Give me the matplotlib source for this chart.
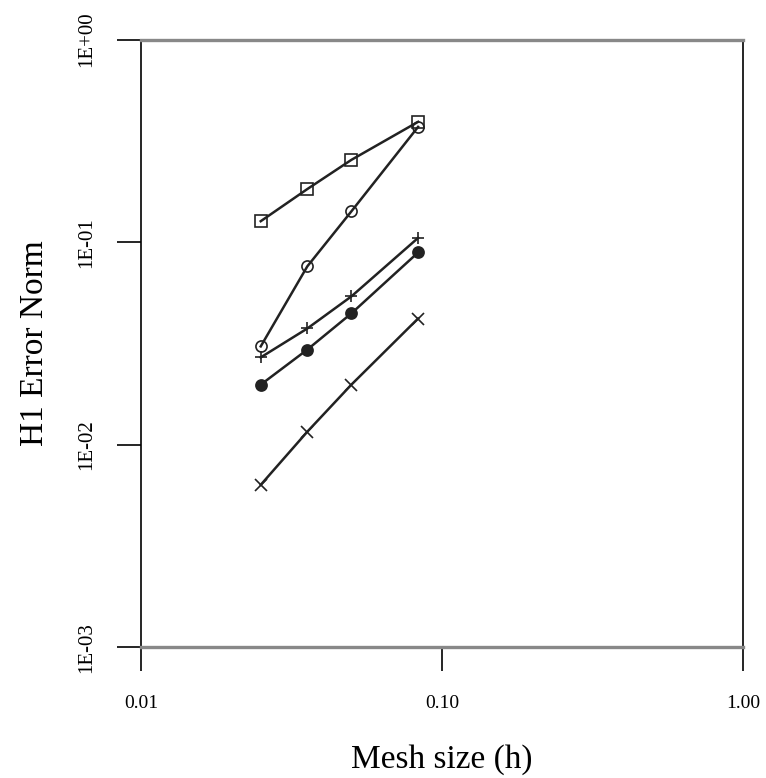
import matplotlib
matplotlib.use("Agg")
import matplotlib.pyplot as plt
from matplotlib.ticker import FixedLocator, NullLocator

plt.rcParams["font.family"] = ["Liberation Serif", "DejaVu Serif"]

h = [0.025, 0.0357, 0.05, 0.0833]
err_square = [0.127, 0.183, 0.255, 0.393]
err_circle = [0.0306, 0.076, 0.142, 0.371]
err_plus = [0.027, 0.0375, 0.054, 0.105]
err_dot = [0.0198, 0.0295, 0.0445, 0.089]
err_cross = [0.00634, 0.0116, 0.0198, 0.042]

x_ticks = [0.01, 0.1, 1.0]
x_labels = ["0.01", "0.10", "1.00"]
y_ticks = [1e-3, 1e-2, 1e-1, 1e0]
y_labels = ["1E-03", "1E-02", "1E-01", "1E+00"]

fig = plt.figure(figsize=(7.66, 7.78), dpi=100)
ax = fig.add_axes([0.184, 0.168, 0.786, 0.781])

style = dict(color="#222222", lw=1.8, ms=8, mew=1.2)
ax.plot(h, err_square, marker="s", mfc="none", **style)
ax.plot(h, err_circle, marker="o", mfc="none", **style)
ax.plot(h, err_plus, marker="+", **style)
ax.plot(h, err_dot, marker="o", mfc="#222222", **style)
ax.plot(h, err_cross, marker="x", **style)

ax.set_xscale("log")
ax.set_yscale("log")
ax.set_xlim(0.01, 1.0)
ax.set_ylim(1e-3, 1.0)
ax.xaxis.set_major_locator(FixedLocator(x_ticks))
ax.yaxis.set_major_locator(FixedLocator(y_ticks))
ax.xaxis.set_minor_locator(NullLocator())
ax.yaxis.set_minor_locator(NullLocator())
ax.set_xticklabels(x_labels, fontsize=14)
ax.set_yticklabels(y_labels, fontsize=15, rotation=90, va="center")
ax.tick_params(direction="out", length=17, width=1.2)
ax.tick_params(axis="x", pad=17)
ax.tick_params(axis="y", pad=15)

for side in ["top", "bottom"]:
    ax.spines[side].set_color("#888888")
    ax.spines[side].set_linewidth(2.4)
for side in ["left", "right"]:
    ax.spines[side].set_linewidth(1.2)

ax.set_xlabel("Mesh size (h)", fontsize=24)
ax.set_ylabel("H1 Error Norm", fontsize=24, va="center")
ax.xaxis.set_label_coords(0.5, -0.16)
ax.yaxis.set_label_coords(-0.176, 0.5)

fig.savefig("out.png", dpi=100)
